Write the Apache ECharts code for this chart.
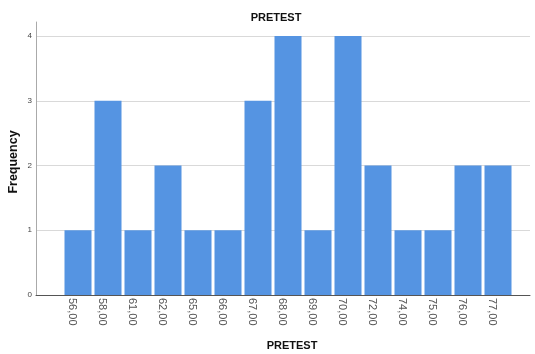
<!DOCTYPE html>
<html><head><meta charset="utf-8">
<script src="https://cdn.jsdelivr.net/npm/echarts@6/dist/echarts.min.js"></script>
<style>html,body{margin:0;padding:0;background:#fff}#c{width:535px;height:354px}</style>
</head><body><div id="c"></div>
<script>
const categories = ['56,00','58,00','61,00','62,00','65,00','66,00','67,00','68,00','69,00','70,00','72,00','74,00','75,00','76,00','77,00'];
const frequencies = [1,3,1,2,1,1,3,4,1,4,2,1,1,2,2];
const yTicks = [0,1,2,3,4];

const chart = echarts.init(document.getElementById('c'));
const font = 'Liberation Sans, Arial, sans-serif';
chart.setOption({
  animation: false,
  title: [
    {text: 'PRETEST', left: 271, top: 7, textAlign: 'center', textStyle: {fontSize: 11, fontWeight: 'bold', color: '#111', fontFamily: font}},
    {text: 'PRETEST', left: 287, top: 335, textAlign: 'center', textStyle: {fontSize: 11, fontWeight: 'bold', color: '#111', fontFamily: font}}
  ],
  graphic: [{type: 'text', x: 14, y: 162, rotation: Math.PI/2, style: {text: 'Frequency', fill: '#111', font: 'bold 12.5px ' + font, align: 'center', verticalAlign: 'middle'}}],
  grid: [
    {left: 36, right: 5, top: 22, bottom: 59},
    {left: 36, right: 5, top: 36, bottom: 59},
    {left: 63, right: 22, top: 36, bottom: 59}
  ],
  xAxis: [
    {gridIndex: 0, type: 'value', min: 0, max: 1, axisLine: {show: true, lineStyle: {color: '#555'}}, axisTick: {show: false}, axisLabel: {show: false}, splitLine: {show: false}},
    {gridIndex: 1, type: 'value', min: 0, max: 1, show: false},
    {gridIndex: 2, type: 'category', data: categories, axisLine: {show: false}, axisTick: {show: false},
     axisLabel: {rotate: -90, fontSize: 11, color: '#555', fontFamily: font, margin: 3, interval: 0, verticalAlign: 'top'}}
  ],
  yAxis: [
    {gridIndex: 0, type: 'value', min: 0, max: 1, axisLine: {show: true, lineStyle: {color: '#aaa'}}, axisTick: {show: false}, axisLabel: {show: false}, splitLine: {show: false}},
    {gridIndex: 1, type: 'value', min: yTicks[0], max: yTicks[yTicks.length-1], interval: 1, axisLine: {show: false}, axisTick: {show: false},
     axisLabel: {fontSize: 8, color: '#444', fontFamily: font, margin: 4}, splitLine: {show: true, lineStyle: {color: '#d9d9d9'}}},
    {gridIndex: 2, type: 'value', min: yTicks[0], max: yTicks[yTicks.length-1], show: false}
  ],
  series: [{
    type: 'bar', xAxisIndex: 2, yAxisIndex: 2, data: frequencies, barCategoryGap: '10%',
    itemStyle: {color: '#5594e2'}
  }]
});
</script></body></html>
